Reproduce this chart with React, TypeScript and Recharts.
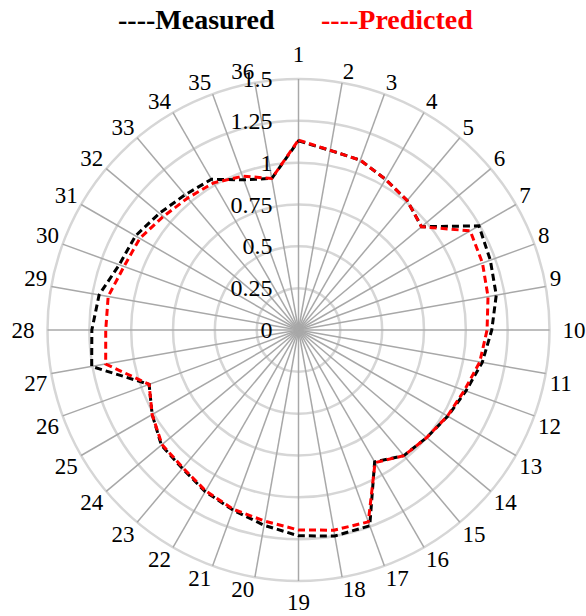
import React from 'react';
import { RadarChart, Radar, PolarGrid, PolarAngleAxis, PolarRadiusAxis } from 'recharts';

const categories: string[] = Array.from({ length: 36 }, (_, i) => String(i + 1));

const measured: number[] = [
  1.13, 1.09, 1.08, 1.04, 1.01, 0.96, 1.245, 1.22, 1.2, 1.155, 1.115, 1.065,
  1.03, 1.0, 0.98, 0.91, 1.245, 1.25, 1.23, 1.185, 1.145, 1.115, 1.08, 1.07,
  1.01, 0.95, 1.255, 1.235, 1.21, 1.14, 1.125, 1.085, 1.055, 1.04, 0.955, 0.92,
];

const predicted: number[] = [
  1.135, 1.09, 1.08, 1.04, 1.01, 0.96, 1.185, 1.17, 1.15, 1.127, 1.1, 1.055,
  1.028, 1.0, 0.98, 0.915, 1.22, 1.215, 1.195, 1.16, 1.14, 1.11, 1.075, 1.065,
  1.01, 0.95, 1.17, 1.152, 1.155, 1.11, 1.095, 1.055, 1.03, 1.015, 0.978, 0.92,
];

const radiusDomain: [number, number] = [0, 1.5];
const radiusTickCount = 7; // 0, 0.25, 0.5, 0.75, 1, 1.25, 1.5

const seriesNames = { measured: '----Measured', predicted: '----Predicted' };

const data = categories.map((c, i) => ({ cat: c, measured: measured[i], predicted: predicted[i] }));

const W = 586;
const H = 616;
const CX = 298.5;
const CY = 330;
const R = 251;
const FONT = '"Liberation Serif", "Times New Roman", serif';

const AngleTick = (props: any) => {
  const { payload } = props;
  const a = (payload.coordinate * Math.PI) / 180;
  const c = Math.cos(a);
  const s = Math.sin(a);
  const ex = CX + R * c;
  const ey = CY - R * s;
  const axial = Math.abs(c) < 0.02 || Math.abs(s) < 0.02;
  const pad = axial ? (s > 0.5 ? 17 : 13) : 4;
  const ax = ex + c * pad;
  const ay = ey - s * pad;
  const anchor = c > 0.02 ? 'start' : c < -0.02 ? 'end' : 'middle';
  const digitH = 16.3;
  let baseline: number;
  if (s > 0.02) baseline = ay;
  else if (s < -0.02) baseline = ay + digitH;
  else baseline = ay + digitH / 2;
  return (
    <text x={ax} y={baseline} textAnchor={anchor} fontFamily={FONT} fontSize={23} fill="#000">
      {payload.value}
    </text>
  );
};

const RadiusTick = (props: any) => {
  const { x, y, payload } = props;
  return (
    <text x={x - 26} y={y + 8} textAnchor="end" fontFamily={FONT} fontSize={24} fill="#000">
      {String(payload.value)}
    </text>
  );
};

export default function App() {
  return (
    <div style={{ position: 'absolute', left: 0, top: 0, width: W, height: H, background: '#fff' }}>
      <RadarChart
        width={W}
        height={H}
        data={data}
        cx={CX}
        cy={CY}
        outerRadius={R}
        margin={{ top: 0, right: 0, bottom: 0, left: 0 }}
      >
        <PolarGrid gridType="circle" radialLines={false} stroke="#d6d6d6" strokeWidth={2.5} />
        <PolarGrid gridType="circle" polarRadius={[0]} stroke="#a8a8a8" strokeWidth={1.5} />
        <PolarAngleAxis dataKey="cat" axisLine={false} tickLine={false} tick={<AngleTick />} />
        <PolarRadiusAxis
          angle={90}
          domain={radiusDomain}
          tickCount={radiusTickCount}
          allowDecimals
          axisLine={false}
          tickLine={false}
          tick={<RadiusTick />}
        />
        <Radar
          name={seriesNames.measured}
          dataKey="measured"
          stroke="#000000"
          strokeWidth={3}
          strokeDasharray="7 4"
          fill="none"
          fillOpacity={0}
          dot={false}
          isAnimationActive={false}
        />
        <Radar
          name={seriesNames.predicted}
          dataKey="predicted"
          stroke="#ff0000"
          strokeWidth={3}
          strokeDasharray="7 4"
          fill="none"
          fillOpacity={0}
          dot={false}
          isAnimationActive={false}
        />
      </RadarChart>
      <svg width={W} height={40} style={{ position: 'absolute', left: 0, top: 0 }}>
        <text x={118} y={29} fontFamily={FONT} fontWeight="bold" fontSize={28} fill="#000">
          {seriesNames.measured}
        </text>
        <text x={321} y={29} fontFamily={FONT} fontWeight="bold" fontSize={28} fill="#ff0000">
          {seriesNames.predicted}
        </text>
      </svg>
    </div>
  );
}
